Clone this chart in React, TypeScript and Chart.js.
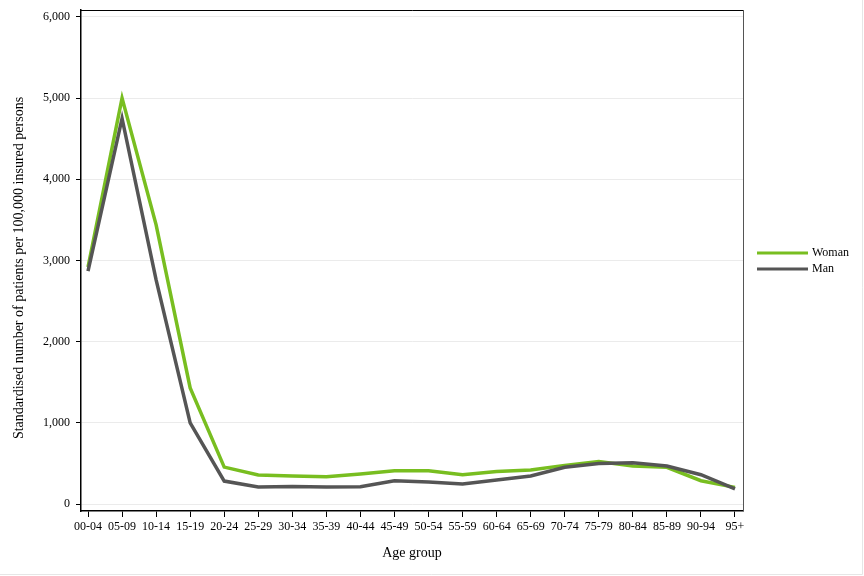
import React, { useEffect, useRef } from "react";
import { Chart, registerables } from "chart.js";

Chart.register(...registerables);

const ageGroups = ["00-04","05-09","10-14","15-19","20-24","25-29","30-34","35-39","40-44","45-49","50-54","55-59","60-64","65-69","70-74","75-79","80-84","85-89","90-94","95+"];
const womanValues = [2920, 5000, 3440, 1430, 455, 357, 345, 336, 370, 410, 410, 361, 402, 418, 476, 525, 468, 452, 287, 205];
const manValues = [2870, 4750, 2760, 1000, 283, 209, 215, 210, 213, 287, 270, 246, 296, 345, 452, 500, 509, 468, 361, 188];
const yTicks = [0, 1000, 2000, 3000, 4000, 5000, 6000];
const seriesNames = ["Woman", "Man"];
const seriesColors = ["#78be20", "#555555"];
const xTitle = "Age group";
const yTitle = "Standardised number of patients per 100,000 insured persons";

const FONT = "'Liberation Serif', 'Times New Roman', serif";

export default function App() {
  const ref = useRef<HTMLCanvasElement | null>(null);
  useEffect(() => {
    if (!ref.current) return;
    const framePlugin = {
      id: "frame",
      afterDatasetsDraw(chart: any) {
        const { ctx, chartArea } = chart;
        ctx.save();
        ctx.strokeStyle = "#000";
        ctx.lineWidth = 1;
        ctx.beginPath();
        ctx.moveTo(chartArea.left, chartArea.top + 0.5);
        ctx.lineTo(chartArea.right + 0.5, chartArea.top + 0.5);
        ctx.stroke();
        ctx.strokeStyle = "#555";
        ctx.beginPath();
        ctx.moveTo(chartArea.right + 0.5, chartArea.top);
        ctx.lineTo(chartArea.right + 0.5, chartArea.bottom);
        ctx.stroke();
        // outer faint border
        ctx.strokeStyle = "#e6e6e6";
        ctx.beginPath();
        ctx.moveTo(862.5, 0);
        ctx.lineTo(862.5, 574.5);
        ctx.lineTo(0, 574.5);
        ctx.stroke();
        // axis titles
        ctx.fillStyle = "#000";
        ctx.font = `14px ${FONT}`;
        ctx.textAlign = "center";
        ctx.textBaseline = "middle";
        ctx.fillText(xTitle, (chartArea.left + chartArea.right) / 2, 553);
        ctx.save();
        ctx.translate(19, 268);
        ctx.rotate(-Math.PI / 2);
        ctx.fillText(yTitle, 0, 0);
        ctx.restore();
        // legend
        const ys = [253, 269];
        seriesNames.forEach((n, i) => {
          ctx.strokeStyle = seriesColors[i];
          ctx.lineWidth = 3;
          ctx.beginPath();
          ctx.moveTo(757, ys[i]);
          ctx.lineTo(808, ys[i]);
          ctx.stroke();
          ctx.fillStyle = "#000";
          ctx.font = `12px ${FONT}`;
          ctx.textBaseline = "middle";
          ctx.textAlign = "left";
          ctx.fillText(n, 812, ys[i]);
        });
        ctx.restore();
      },
    };
    const chart = new Chart(ref.current, {
      type: "line",
      data: {
        datasets: seriesNames.map((n, i) => ({
          label: n,
          data: (i === 0 ? womanValues : manValues).map((v, j) => ({ x: j, y: v })),
          borderColor: seriesColors[i],
          backgroundColor: seriesColors[i],
          borderWidth: 3.5,
          pointRadius: 0,
          tension: 0,
          fill: false,
        })).reverse(),
      },
      options: {
        responsive: false,
        animation: false,
        layout: { padding: { top: 10, right: 121, left: 0, bottom: 0 } },
        plugins: { legend: { display: false }, tooltip: { enabled: false } },
        scales: {
          x: {
            type: "linear",
            min: -0.206,
            max: 19.235,
            afterBuildTicks: (s: any) => { s.ticks = ageGroups.map((_, i) => ({ value: i })); },
            afterFit: (s: any) => { s.height = 65; s.paddingLeft = 0; s.paddingRight = 0; },
            ticks: {
              callback: (v: any) => ageGroups[v] ?? "",
              color: "#000",
              font: { family: FONT, size: 12 },
              maxRotation: 0,
              autoSkip: false,
              padding: 3,
            },
            grid: { drawOnChartArea: false, tickLength: 6, tickColor: "#000", color: "#000" },
            border: { display: true, color: "#000", width: 1.5 },
          },
          y: {
            type: "linear",
            min: -86,
            max: 6086,
            afterBuildTicks: (s: any) => { s.ticks = yTicks.map((v) => ({ value: v })); },
            afterFit: (s: any) => { s.width = 81; s.paddingTop = 0; s.paddingBottom = 0; },
            ticks: {
              callback: (v: any) => Number(v).toLocaleString("en-US"),
              color: "#000",
              font: { family: FONT, size: 12 },
              padding: 6,
            },
            grid: { color: "#ebebeb", lineWidth: 1, tickLength: 5, tickColor: "#000" },
            border: { display: true, color: "#000", width: 1.5 },
          },
        },
      },
      plugins: [framePlugin],
    } as any);
    return () => chart.destroy();
  }, []);
  return (
    <div style={{ position: "fixed", left: 0, top: 0, width: 864, height: 576, background: "#fff" }}>
      <canvas ref={ref} width={864} height={576} style={{ width: 864, height: 576, display: "block" }} />
    </div>
  );
}
